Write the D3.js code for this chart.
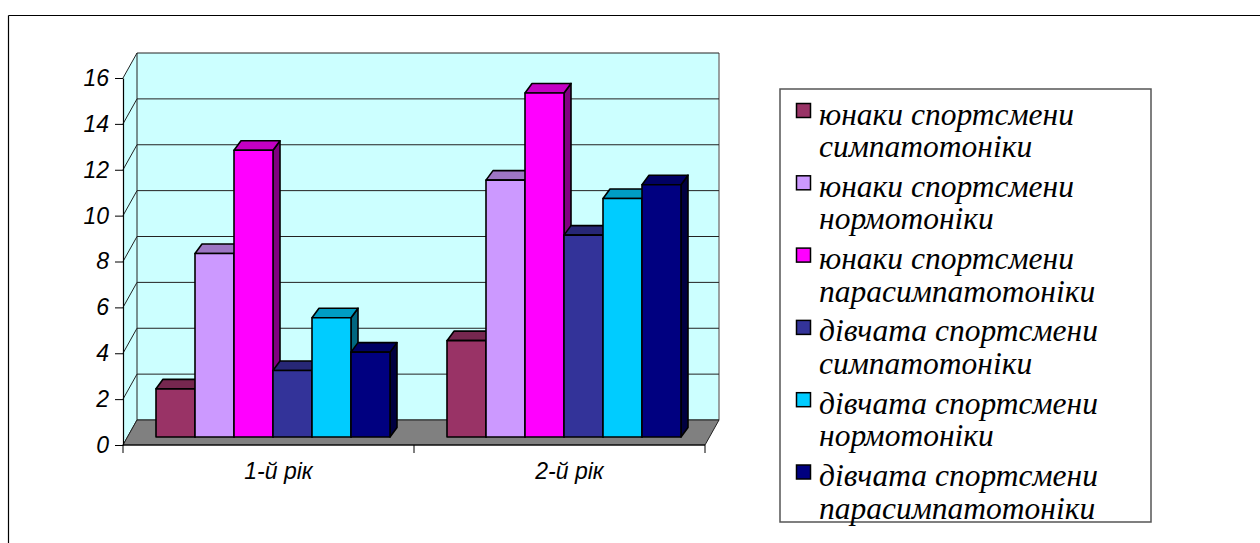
<!DOCTYPE html>
<html>
<head>
<meta charset="utf-8">
<script src="https://cdn.jsdelivr.net/npm/d3@7"></script>
<style>
  html, body { margin: 0; padding: 0; background: #fff; }
  svg { display: block; }
</style>
</head>
<body>
<svg id="chart" width="1260" height="543"></svg>
<script>
// Categories, series and values
const categories = ["1-й рік", "2-й рік"];
const seriesNames = [
  ["юнаки спортсмени", "симпатотоніки"],
  ["юнаки спортсмени", "нормотоніки"],
  ["юнаки спортсмени", "парасимпатотоніки"],
  ["дівчата спортсмени", "симпатотоніки"],
  ["дівчата спортсмени", "нормотоніки"],
  ["дівчата спортсмени", "парасимпатотоніки"]
];
const seriesColors = ["#993366", "#CC99FF", "#FF00FF", "#333399", "#00CCFF", "#000080"];
const year1Values = [2.1, 8.0, 12.5, 2.9, 5.2, 3.7];
const year2Values = [4.2, 11.2, 15.0, 8.8, 10.4, 11.0];
const yTicks = [0, 2, 4, 6, 8, 10, 12, 14, 16];

const valuesByCategory = [year1Values, year2Values];

const svg = d3.select("#chart");

// outer chart frame (top and left edges visible)
svg.append("line").attr("x1", 8.5).attr("y1", 15.5).attr("x2", 1260).attr("y2", 15.5)
  .attr("stroke", "#000").attr("stroke-width", 1.2);
svg.append("line").attr("x1", 8.5).attr("y1", 15.5).attr("x2", 8.5).attr("y2", 543)
  .attr("stroke", "#000").attr("stroke-width", 1.2);

// 3-D box geometry
const frontLeft = 123, frontRight = 705, frontBottom = 445, frontTop = 78;
const DX = 14, DY = 25;          // wall depth offset
const barShiftX = 4.5, barShiftY = 8; // plane the bar fronts sit in
const barDX = 7, barDY = 9.5;    // bar depth

const yFront = d3.scaleLinear().domain([0, 16]).range([frontBottom, frontTop]);
const yBar = d3.scaleLinear().domain([0, 16]).range([frontBottom - barShiftY, frontTop - barShiftY]);
const x = d3.scaleBand().domain(categories).range([frontLeft, frontRight]);
const xs = d3.scaleBand().domain(d3.range(seriesNames.length))
  .range([28.5, x.bandwidth() - 28.5]);

const wall = svg.append("g");
// side wall
wall.append("polygon")
  .attr("points", [[frontLeft, frontBottom], [frontLeft, frontTop], [frontLeft + DX, frontTop - DY], [frontLeft + DX, frontBottom - DY]].join(" "))
  .attr("fill", "#CCFFFF");
// back wall
wall.append("rect")
  .attr("x", frontLeft + DX).attr("y", frontTop - DY)
  .attr("width", frontRight - frontLeft).attr("height", frontBottom - frontTop)
  .attr("fill", "#CCFFFF");
// right edge of back wall
wall.append("line")
  .attr("x1", frontRight + DX).attr("x2", frontRight + DX)
  .attr("y1", frontTop - DY).attr("y2", frontBottom - DY)
  .attr("stroke", "#808080").attr("stroke-width", 1.5);
// gridlines on back and side walls
yTicks.forEach(t => {
  const yf = yFront(t), yb = yFront(t) - DY;
  wall.append("line").attr("x1", frontLeft + DX).attr("x2", frontRight + DX)
    .attr("y1", yb).attr("y2", yb).attr("stroke", "#222").attr("stroke-width", 1);
  wall.append("line").attr("x1", frontLeft).attr("x2", frontLeft + DX)
    .attr("y1", yf).attr("y2", yb).attr("stroke", "#222").attr("stroke-width", 1);
});
// left back edge
wall.append("line").attr("x1", frontLeft + DX).attr("x2", frontLeft + DX)
  .attr("y1", frontTop - DY).attr("y2", frontBottom - DY).attr("stroke", "#222").attr("stroke-width", 1);

// floor
svg.append("polygon")
  .attr("points", [[frontLeft, frontBottom], [frontRight, frontBottom], [frontRight + DX, frontBottom - DY], [frontLeft + DX, frontBottom - DY]].join(" "))
  .attr("fill", "#808080").attr("stroke", "#222").attr("stroke-width", 1);

// y axis
const yAxis = d3.axisLeft(yFront).tickValues(yTicks).tickSize(8).tickSizeOuter(0).tickPadding(6);
const yAxisG = svg.append("g").attr("transform", `translate(${frontLeft},0)`).call(yAxis);
yAxisG.attr("font-size", null).attr("font-family", null);
yAxisG.select(".domain").attr("stroke", "#000").attr("stroke-width", 1.2);
yAxisG.selectAll(".tick line").attr("stroke", "#000");
yAxisG.selectAll(".tick text")
  .style("font-family", "'Liberation Sans', Arial, sans-serif")
  .style("font-style", "italic").style("font-size", "23px").attr("fill", "#000");

// x axis line and boundary ticks
const xAxisG = svg.append("g");
xAxisG.append("line").attr("x1", frontLeft).attr("x2", frontRight)
  .attr("y1", frontBottom).attr("y2", frontBottom).attr("stroke", "#000").attr("stroke-width", 1.2);
const boundaries = categories.map(c => x(c)).concat([x(categories[categories.length - 1]) + x.bandwidth()]);
xAxisG.selectAll("line.tick").data(boundaries).join("line")
  .attr("class", "tick")
  .attr("x1", d => d).attr("x2", d => d)
  .attr("y1", frontBottom).attr("y2", frontBottom + 8)
  .attr("stroke", "#000").attr("stroke-width", 1);
xAxisG.selectAll("text").data(categories).join("text")
  .attr("x", d => x(d) + x.bandwidth() / 2 + 10)
  .attr("y", 479)
  .attr("text-anchor", "middle")
  .style("font-family", "'Liberation Sans', Arial, sans-serif")
  .style("font-style", "italic").style("font-size", "23px")
  .text(d => d);

// bars
function shade(c, k) {
  const r = d3.rgb(c);
  return d3.rgb(r.r * k, r.g * k, r.b * k).formatHex();
}
const barsG = svg.append("g");
categories.forEach((cat, ci) => {
  valuesByCategory[ci].forEach((v, si) => {
    const x0 = x(cat) + xs(si) + barShiftX;
    const x1 = x0 + xs.bandwidth();
    const yT = yBar(v), yB = yBar(0);
    const g = barsG.append("g")
      .attr("stroke", "#000").attr("stroke-width", 1.6).attr("stroke-linejoin", "round");
    g.append("polygon")
      .attr("points", [[x1, yB], [x1, yT], [x1 + barDX, yT - barDY], [x1 + barDX, yB - barDY]].join(" "))
      .attr("fill", shade(seriesColors[si], 0.5));
    g.append("polygon")
      .attr("points", [[x0, yT], [x1, yT], [x1 + barDX, yT - barDY], [x0 + barDX, yT - barDY]].join(" "))
      .attr("fill", shade(seriesColors[si], 0.77));
    g.append("rect")
      .attr("x", x0).attr("y", yT).attr("width", x1 - x0).attr("height", yB - yT)
      .attr("fill", seriesColors[si]);
  });
});

// legend
const legend = svg.append("g");
legend.append("rect").attr("x", 780).attr("y", 89).attr("width", 371).attr("height", 433)
  .attr("fill", "#fff").attr("stroke", "#555").attr("stroke-width", 1.5);
const itemStep = 72.3;
seriesNames.forEach((lines, i) => {
  const top = 103.5 + i * itemStep;
  legend.append("rect").attr("x", 796.5).attr("y", top).attr("width", 14).attr("height", 14)
    .attr("fill", seriesColors[i]).attr("stroke", "#000").attr("stroke-width", 1.5);
  const t = legend.append("text")
    .style("font-family", "'Liberation Serif', 'Times New Roman', serif")
    .style("font-style", "italic").style("font-size", "31.5px").attr("fill", "#000");
  lines.forEach((ln, li) => {
    t.append("tspan").attr("x", 819).attr("y", top + 21 + li * 32.5).text(ln);
  });
});
</script>
</body>
</html>
